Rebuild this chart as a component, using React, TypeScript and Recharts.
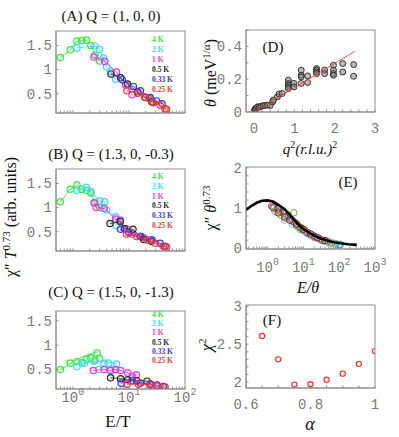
import React from "react";
import { ScatterChart, Scatter, XAxis, YAxis } from "recharts";

const SERIF = "'Liberation Serif', 'Times New Roman', serif";
const MONO = "'Liberation Mono', 'DejaVu Sans Mono', monospace";
const AXIS = "#8f8f8f";
const TICK_TEXT = "#7a7a7a";

// temperatures shared by panels A-C
const temps = ["4 K", "2 K", "1 K", "0.5 K", "0.33 K", "0.25 K"];
const tempColors = ["#3de63d", "#40d8f0", "#e33be3", "#2b2b2b", "#3535f5", "#f53535"];

// (A) Q = (1, 0, 0): [E/T, chi'' T^0.73]
const a4K = [[0.6, 1.25], [0.9, 1.41], [1.18, 1.59], [1.44, 1.6], [1.75, 1.61], [2.09, 1.5], [2.48, 1.3], [3.0, 1.18]];
const a2K = [[1.18, 1.45], [2.48, 1.49], [2.97, 1.42], [3.5, 1.24], [4.0, 1.06], [4.7, 0.96], [5.8, 0.8]];
const a1K = [[2.38, 1.26], [3.7, 1.17], [6.0, 0.95], [8.7, 0.68], [11.4, 0.48]];
const a05K = [[4.8, 0.91], [7.1, 0.83], [9.4, 0.7], [14.3, 0.54], [19.5, 0.42], [25.7, 0.33]];
const a033K = [[7.6, 0.79], [12, 0.65], [16, 0.56], [24, 0.42], [31, 0.35], [39, 0.29]];
const a025K = [[9.2, 0.56], [14.3, 0.51], [19.3, 0.43], [23, 0.4], [27.3, 0.31], [36, 0.26], [44, 0.19], [47, 0.17]];

// (B) Q = (1.3, 0, -0.3)
const b4K = [[0.6, 1.12], [0.9, 1.38], [1.18, 1.47], [1.44, 1.38], [1.75, 1.36], [2.09, 1.3], [2.48, 1.1], [3.0, 1.0]];
const b2K = [[1.18, 1.36], [1.75, 1.42], [2.1, 1.33], [3.0, 1.14], [3.7, 1.12], [4.0, 0.95], [5.8, 0.81], [5.9, 0.63]];
const b1K = [[2.38, 1.1], [2.6, 1.0], [3.6, 0.98], [5.8, 0.76], [7.0, 0.74], [9.0, 0.56], [11.4, 0.45], [18, 0.38]];
const b05K = [[4.6, 0.67], [7.0, 0.71], [8.3, 0.56], [11.8, 0.55], [16, 0.4], [18.4, 0.34], [25, 0.3]];
const b033K = [[7.1, 0.55], [10, 0.48], [16, 0.4], [25.7, 0.33], [36, 0.26], [44, 0.2]];
const b025K = [[9.1, 0.45], [13.8, 0.4], [21, 0.33], [29.6, 0.26], [41, 0.2], [47, 0.18]];

// (C) Q = (1.5, 0, -1.3)
const c4K = [[0.6, 0.5], [0.9, 0.63], [1.18, 0.66], [1.44, 0.64], [1.75, 0.71], [2.09, 0.74], [2.48, 0.69], [2.7, 0.84], [3.0, 0.73]];
const c4KFit = [[0.6, 0.5], [0.8, 0.58], [1.0, 0.66], [1.3, 0.73], [1.7, 0.79], [2.2, 0.83], [2.7, 0.86]];
const c2K = [[1.18, 0.56], [1.6, 0.63], [2.4, 0.67], [2.9, 0.5], [3.6, 0.63], [4.3, 0.63], [4.6, 0.5], [6.0, 0.61]];
const c2KFit = [[1.18, 0.6], [1.6, 0.63], [2.4, 0.66], [3.5, 0.66], [4.6, 0.64], [6.0, 0.62]];
const c1K = [[2.32, 0.48], [3.6, 0.5], [4.7, 0.48], [5.8, 0.5], [7.1, 0.48], [9.5, 0.43], [11.4, 0.36], [13.6, 0.39]];
const c05K = [[4.7, 0.33], [7.1, 0.31], [9.5, 0.29], [13.8, 0.27], [21, 0.26], [24, 0.2]];
const c033K = [[7.3, 0.22], [11.4, 0.27], [16, 0.22], [24, 0.2], [31.6, 0.18], [41, 0.15]];
const c025K = [[9.3, 0.2], [14.8, 0.2], [24, 0.18], [31.6, 0.16], [44, 0.14]];

// (D) theta vs q^2
const dPoints = [
  [0.01, 0.012], [0.03, 0.02], [0.06, 0.025], [0.09, 0.032], [0.13, 0.03], [0.17, 0.035], [0.22, 0.038],
  [0.27, 0.04], [0.33, 0.042], [0.4, 0.04], [0.46, 0.062], [0.48, 0.073], [0.58, 0.093], [0.62, 0.11],
  [0.7, 0.113], [0.85, 0.194], [0.85, 0.174], [0.85, 0.163], [0.85, 0.153], [0.85, 0.143], [0.99, 0.174],
  [0.99, 0.153], [1.17, 0.255], [1.17, 0.224], [1.17, 0.214], [1.17, 0.174], [1.33, 0.22], [1.33, 0.18],
  [1.55, 0.265], [1.55, 0.255], [1.55, 0.244], [1.55, 0.234], [1.75, 0.255], [1.75, 0.234], [1.97, 0.285],
  [1.97, 0.255], [1.97, 0.234], [1.97, 0.224], [2.2, 0.295], [2.2, 0.244], [2.47, 0.289], [2.47, 0.218],
];
const dFit = [[0, 0], [2.5, 0.37]];

// (E) scaling collapse
const eCurve = [
  [0.25, 0.95], [0.35, 1.05], [0.5, 1.13], [0.7, 1.18], [1.0, 1.19], [1.4, 1.16], [2.0, 1.08], [3.0, 0.97],
  [4.5, 0.8], [7, 0.6], [10, 0.48], [16, 0.36], [25, 0.27], [45, 0.19], [70, 0.15], [107, 0.125], [180, 0.1], [310, 0.083],
];
const eBlue = [[1.5, 1.0], [2.2, 0.92], [3.5, 0.8], [5, 0.68], [8, 0.52], [12, 0.4], [20, 0.28], [35, 0.19], [60, 0.13], [100, 0.09]];
const eOrange = [[1.3, 1.05], [2, 0.95], [3, 0.85], [4.5, 0.72], [7, 0.56], [11, 0.43], [18, 0.32], [30, 0.22], [50, 0.16], [80, 0.11]];
const eYellow = [[1.8, 0.98], [2.6, 0.9], [4, 0.74], [6, 0.62], [9, 0.5], [14, 0.38], [22, 0.27], [40, 0.18], [65, 0.13]];
const ePurple = [[1.4, 1.02], [1.9, 0.98], [2.8, 0.9], [3.8, 0.82], [5.5, 0.65], [8.5, 0.5], [13, 0.39], [21, 0.29], [33, 0.2]];
const eGreen = [[1.6, 0.92], [2.4, 0.82], [3.2, 0.75], [5.4, 0.88], [6.5, 0.55], [10, 0.44], [16, 0.33], [28, 0.23], [45, 0.17]];
const eCyan = [[3, 0.7], [5, 0.6], [8, 0.47], [13, 0.36], [20, 0.27], [32, 0.2], [50, 0.15], [80, 0.11], [110, 0.09]];
const eRed = [[2, 0.88], [3, 0.78], [4.2, 0.7], [6.5, 0.6], [10, 0.47], [16, 0.35], [25, 0.26], [40, 0.19]];

// (F) chi^2 vs alpha
const fAlpha = [0.65, 0.7, 0.75, 0.8, 0.85, 0.9, 0.95, 1.0];
const fChi2 = [2.61, 2.3, 1.965, 1.97, 2.03, 2.11, 2.24, 2.41];

// ticks
const logTicksT = [0.5, 0.6, 0.7, 0.8, 0.9, 1, 2, 3, 4, 5, 6, 7, 8, 9, 10, 20, 30, 40, 50, 60, 70, 80, 90, 100];
const logTicksE = [0.3, 0.4, 0.5, 0.6, 0.7, 0.8, 0.9, 1, 2, 3, 4, 5, 6, 7, 8, 9, 10, 20, 30, 40, 50, 60, 70, 80, 90, 100,
  200, 300, 400, 500, 600, 700, 800, 900, 1000];
const chiTicks = [0.5, 1, 1.5];
const dXTicks = [0, 0.2, 0.4, 0.6, 0.8, 1, 1.2, 1.4, 1.6, 1.8, 2, 2.2, 2.4, 2.6, 2.8, 3];
const dXLabels = [0, 1, 2, 3];
const dYTicks = [0, 0.1, 0.2, 0.3, 0.4, 0.5];
const dYLabels = [0, 0.2, 0.4];
const eYTicks = [0, 0.2, 0.4, 0.6, 0.8, 1, 1.2, 1.4, 1.6, 1.8, 2];
const eYLabels = [0, 1, 2];
const fXTicks = [0.6, 0.65, 0.7, 0.75, 0.8, 0.85, 0.9, 0.95, 1];
const fXLabels = [0.6, 0.8, 1];
const fYTicks = [2, 2.1, 2.2, 2.3, 2.4, 2.5, 2.6, 2.7, 2.8, 2.9, 3];
const fYLabels = [2, 2.5, 3];

// plot boxes [left, top, width, height] in page pixels
const boxA: [number, number, number, number] = [56, 31, 129, 82];
const boxB: [number, number, number, number] = [56, 169, 129, 82];
const boxC: [number, number, number, number] = [56, 311, 129, 78];
const boxD: [number, number, number, number] = [246, 30, 129, 82];
const boxE: [number, number, number, number] = [246, 167, 129, 82];
const boxF: [number, number, number, number] = [246, 305, 129, 83];

interface Series {
  pts: number[][];
  color: string;
  r?: number;
  sw?: number;
  fillOpacity?: number;
  fill?: string;
  stroke?: string;
  line?: number;
  hidePoints?: boolean;
}

const isIn = (list: number[], v: number) => list.some((m) => Math.abs(m - v) < 1e-6);

function logXTick(show: boolean) {
  return function LogTick(p: any) {
    const v = p.payload.value;
    const e = Math.round(Math.log10(v));
    if (!show || Math.abs(v - Math.pow(10, e)) > 1e-6) return <g />;
    return (
      <text x={p.x} y={p.y} textAnchor="middle" fontFamily={MONO} fontSize={14} fill={TICK_TEXT}>
        10<tspan dy={-7} fontSize={10}>{e}</tspan>
      </text>
    );
  };
}

function linXTick(labels: number[]) {
  return function LinTick(p: any) {
    const v = p.payload.value;
    if (!isIn(labels, v)) return <g />;
    return (
      <text x={p.x} y={p.y} textAnchor="middle" fontFamily={MONO} fontSize={14} fill={TICK_TEXT}>
        {String(v)}
      </text>
    );
  };
}

function linYTick(labels: number[]) {
  return function YTick(p: any) {
    const v = p.payload.value;
    if (!isIn(labels, v)) return <g />;
    return (
      <text x={p.x} y={p.y} dy="0.35em" textAnchor="end" fontFamily={MONO} fontSize={14} fill={TICK_TEXT}>
        {String(v)}
      </text>
    );
  };
}

function markerFor(s: Series) {
  if (s.hidePoints) return () => <g />;
  return (p: any) => (
    <circle
      cx={p.cx}
      cy={p.cy}
      r={s.r ?? 3.2}
      fill={s.fill ?? s.color}
      fillOpacity={s.fillOpacity ?? 0}
      stroke={s.stroke ?? s.color}
      strokeWidth={s.sw ?? 1.1}
    />
  );
}

interface PanelProps {
  box: [number, number, number, number];
  xDomain: [number, number];
  yDomain: [number, number];
  log?: boolean;
  xTicks: number[];
  yTicks: number[];
  xTick: (p: any) => React.ReactElement;
  yTick: (p: any) => React.ReactElement;
  labelOffset: number;
  series: Series[];
}

// one MATLAB-style axes; the plot box lands on `box` in page coords
function Panel({ box, xDomain, yDomain, log, xTicks, yTicks, xTick, yTick, labelOffset, series }: PanelProps) {
  const [bx, by, bw, bh] = box;
  const yw = 44;
  const xh = 32;
  const mt = 10;
  const mr = 16;
  const tickSize = -2.5;
  const common = { stroke: AXIS, strokeWidth: 1 };
  return (
    <div style={{ position: "absolute", left: bx - yw, top: by - mt }}>
      <ScatterChart width={yw + bw + mr} height={mt + bh + xh} margin={{ top: mt, right: mr, bottom: 0, left: 0 }}>
        <XAxis
          dataKey="x"
          type="number"
          scale={log ? "log" : "linear"}
          domain={xDomain}
          allowDataOverflow
          ticks={xTicks}
          interval={0}
          height={xh}
          tickSize={tickSize}
          tickMargin={2.5 + labelOffset}
          axisLine={common}
          tickLine={common}
          tick={xTick}
        />
        <YAxis
          dataKey="y"
          type="number"
          domain={yDomain}
          allowDataOverflow
          ticks={yTicks}
          interval={0}
          width={yw}
          tickSize={tickSize}
          tickMargin={6.5}
          axisLine={common}
          tickLine={common}
          tick={yTick}
        />
        {series.map((s, i) => (
          <Scatter
            key={i}
            data={s.pts.map(([x, y]) => ({ x, y }))}
            isAnimationActive={false}
            shape={markerFor(s)}
            line={s.line ? { stroke: s.color, strokeWidth: s.line } : false}
            lineType="joint"
          />
        ))}
      </ScatterChart>
    </div>
  );
}

const tempSeries = (sets: number[][][], lines: boolean[]): Series[] =>
  sets.map((pts, i) => ({
    pts,
    color: tempColors[i],
    r: 3.2,
    sw: 1.2,
    fillOpacity: 0.12,
    line: lines[i] ? 0.8 : 0,
  }));

const allLines = [true, true, true, true, true, true];

const seriesA = tempSeries([a4K, a2K, a1K, a05K, a033K, a025K], allLines);
const seriesB = tempSeries([b4K, b2K, b1K, b05K, b033K, b025K], allLines);
const seriesC: Series[] = [
  ...tempSeries([c4K, c2K, c1K, c05K, c033K, c025K], [false, false, true, true, true, true]),
  { pts: c4KFit, color: tempColors[0], hidePoints: true, line: 0.9 },
  { pts: c2KFit, color: tempColors[1], hidePoints: true, line: 0.9 },
];

const seriesD: Series[] = [
  { pts: dPoints, color: "#333333", r: 3, sw: 1, fill: "#808080", fillOpacity: 0.55 },
  { pts: dFit, color: "#ff4040", hidePoints: true, line: 0.9 },
];

const eColors = ["#0072BD", "#D95319", "#EDB120", "#7E2F8E", "#77AC30", "#4DBEEE", "#A2142F"];
const seriesE: Series[] = [
  ...[eBlue, eOrange, eYellow, ePurple, eGreen, eCyan, eRed].map((pts, i) => ({
    pts,
    color: eColors[i],
    r: 3.3,
    sw: 1,
    fillOpacity: 0,
  })),
  { pts: eCurve, color: "#000000", hidePoints: true, line: 2.6 },
];

const seriesF: Series[] = [
  { pts: fAlpha.map((a, i) => [a, fChi2[i]]), color: "#ff2020", r: 2.6, sw: 1.1 },
];

const legendRows: { top: number; step: number }[] = [
  { top: 42, step: 10 },
  { top: 179, step: 9.8 },
  { top: 317, step: 9.2 },
];

export default function App() {
  return (
    <div style={{ position: "absolute", left: 0, top: 0, width: 399, height: 437, background: "#fff", overflow: "hidden" }}>
      <Panel box={boxA} xDomain={[0.5, 100]} yDomain={[0.1, 1.8]} log xTicks={logTicksT} yTicks={chiTicks}
        xTick={logXTick(false)} yTick={linYTick(chiTicks)} labelOffset={15} series={seriesA} />
      <Panel box={boxB} xDomain={[0.5, 100]} yDomain={[0.1, 1.8]} log xTicks={logTicksT} yTicks={chiTicks}
        xTick={logXTick(false)} yTick={linYTick(chiTicks)} labelOffset={15} series={seriesB} />
      <Panel box={boxC} xDomain={[0.5, 100]} yDomain={[0.1, 1.7]} log xTicks={logTicksT} yTicks={chiTicks}
        xTick={logXTick(true)} yTick={linYTick(chiTicks)} labelOffset={13} series={seriesC} />
      <Panel box={boxD} xDomain={[-0.2, 3]} yDomain={[0, 0.5]} xTicks={dXTicks} yTicks={dYTicks}
        xTick={linXTick(dXLabels)} yTick={linYTick(dYLabels)} labelOffset={21} series={seriesD} />
      <Panel box={boxE} xDomain={[0.25, 1000]} yDomain={[-0.02, 2.02]} log xTicks={logTicksE} yTicks={eYTicks}
        xTick={logXTick(true)} yTick={linYTick(eYLabels)} labelOffset={23} series={seriesE} />
      <Panel box={boxF} xDomain={[0.6, 1]} yDomain={[1.92, 3.02]} xTicks={fXTicks} yTicks={fYTicks}
        xTick={linXTick(fXLabels)} yTick={linYTick(fYLabels)} labelOffset={21} series={seriesF} />

      <svg width={399} height={437} style={{ position: "absolute", left: 0, top: 0, pointerEvents: "none" }} fontFamily={SERIF} fill="#111">
        {/* close each axes box on the top and right */}
        {[boxA, boxB, boxC, boxD, boxE, boxF].map(([x, y, w, h], i) => (
          <rect key={`frame-${i}`} x={x} y={y} width={w} height={h} fill="none" stroke={AXIS} strokeWidth={1} />
        ))}

        <text x={111} y={21} textAnchor="middle" fontSize={15}>(A) Q = (1, 0, 0)</text>
        <text x={111} y={159} textAnchor="middle" fontSize={15}>(B) Q = (1.3, 0, -0.3)</text>
        <text x={111} y={297} textAnchor="middle" fontSize={15}>(C) Q = (1.5, 0, -1.3)</text>

        {legendRows.map((row, j) =>
          temps.map((t, i) => (
            <text key={`${j}-${i}`} x={152} y={row.top + i * row.step} fontSize={7.5} fontWeight={700} fill={tempColors[i]}>
              {t}
            </text>
          ))
        )}

        <text transform="translate(16,217) rotate(-90)" textAnchor="middle" fontSize={16}>
          χ″ <tspan fontStyle="italic">T</tspan>
          <tspan dy={-6} fontSize={11}>0.73</tspan>
          <tspan dy={6}> (arb. units)</tspan>
        </text>
        <text x={118} y={427} textAnchor="middle" fontSize={17}>E/T</text>

        <text x={273} y={52} textAnchor="middle" fontSize={15}>(D)</text>
        <text transform="translate(216,73) rotate(-90)" textAnchor="middle" fontSize={16}>
          <tspan fontStyle="italic">θ</tspan> (meV<tspan dy={-6} fontSize={11}>1/α</tspan>
          <tspan dy={6}>)</tspan>
        </text>
        <text x={310} y={154} textAnchor="middle" fontSize={15} fontStyle="italic">
          q<tspan dy={-6} fontSize={10} fontStyle="normal">2</tspan>
          <tspan dy={6}>(r.l.u.)</tspan>
          <tspan dy={-6} fontSize={10} fontStyle="normal">2</tspan>
        </text>

        <text x={348} y={187} textAnchor="middle" fontSize={15}>(E)</text>
        <text transform="translate(216,208) rotate(-90)" textAnchor="middle" fontSize={16}>
          χ″ <tspan fontStyle="italic">θ</tspan>
          <tspan dy={-6} fontSize={11}>0.73</tspan>
        </text>
        <text x={308} y={293} textAnchor="middle" fontSize={16} fontStyle="italic">E/θ</text>

        <text x={272} y={325} textAnchor="middle" fontSize={15}>(F)</text>
        <text transform="translate(212,345) rotate(-90)" textAnchor="middle" fontSize={17}>
          <tspan fontStyle="italic">χ</tspan>
          <tspan dy={-6} fontSize={11}>2</tspan>
        </text>
        <text x={310} y={430} textAnchor="middle" fontSize={18} fontStyle="italic">α</text>
      </svg>
    </div>
  );
}
